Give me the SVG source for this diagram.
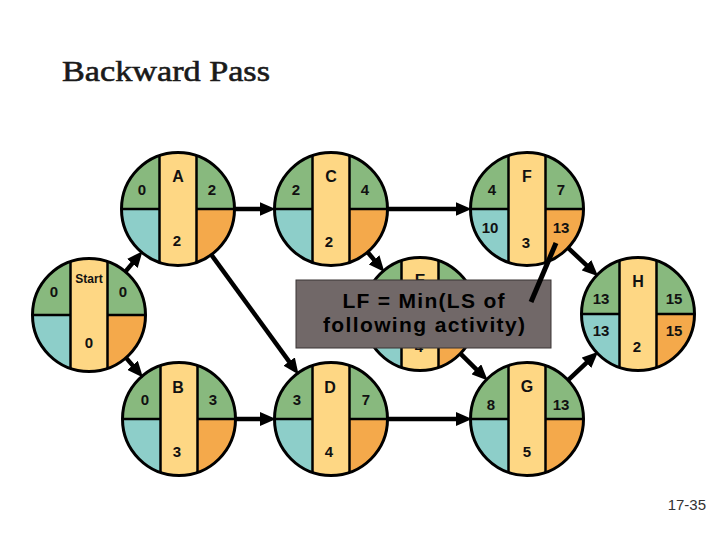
<svg xmlns="http://www.w3.org/2000/svg" xmlns:xlink="http://www.w3.org/1999/xlink" width="720" height="540" viewBox="0 0 720 540">
<style>
.v{font-family:"Liberation Sans",Arial,sans-serif;font-size:15px;font-weight:bold;fill:#111;text-anchor:middle}
.l{font-family:"Liberation Sans",Arial,sans-serif;font-size:16px;font-weight:bold;fill:#111;text-anchor:middle}
.s{font-family:"Liberation Sans",Arial,sans-serif;font-size:12px;font-weight:bold;fill:#111;text-anchor:middle}
.c{stroke:#000;stroke-width:4.5;fill:none;marker-end:url(#ah)}
.bx{font-family:"Liberation Sans",Arial,sans-serif;font-size:21px;font-weight:bold;fill:#000;text-anchor:middle}
</style>
<defs>
<marker id="ah" markerUnits="userSpaceOnUse" markerWidth="16" markerHeight="14" refX="5" refY="7" orient="auto">
<path d="M0,0 L16,7 L0,14 z" fill="#000"/>
</marker>
<clipPath id="cc"><circle r="56.5"/></clipPath>
<g id="node">
<g clip-path="url(#cc)">
<rect x="-57" y="-57" width="114" height="57" fill="#88b97e"/>
<rect x="-57" y="0" width="39" height="57" fill="#8dcec9"/>
<rect x="18" y="0" width="39" height="57" fill="#f4a94b"/>
<rect x="-18.5" y="-57" width="37" height="114" fill="#fed784"/>
<path d="M-18.5,-57V57M18.5,-57V57M-57,0H-18.5M18.5,0H57" stroke="#000" stroke-width="2.5" fill="none"/>
</g>
<circle r="56.5" fill="none" stroke="#000" stroke-width="3"/>
</g>
</defs>
<rect width="720" height="540" fill="#fff"/>
<text x="62" y="81" font-family="Liberation Serif,Times New Roman,serif" font-size="30" fill="#1a1a1a" stroke="#1a1a1a" stroke-width="0.6" textLength="208" lengthAdjust="spacingAndGlyphs">Backward Pass</text>

<g id="node-start">
<use xlink:href="#node" x="89" y="315"/>
<text class="s" x="89" y="283">Start</text>
<text class="v" x="54" y="297">0</text>
<text class="v" x="123" y="297">0</text>
<text class="v" x="89" y="348">0</text>
</g>
<g id="node-A">
<use xlink:href="#node" x="178" y="209"/>
<text class="l" x="178" y="182">A</text>
<text class="v" x="142" y="195">0</text>
<text class="v" x="212" y="195">2</text>
<text class="v" x="177" y="246">2</text>
</g>
<g id="node-C">
<use xlink:href="#node" x="331" y="209"/>
<text class="l" x="331" y="182">C</text>
<text class="v" x="296" y="195">2</text>
<text class="v" x="365" y="195">4</text>
<text class="v" x="329" y="247">2</text>
</g>
<g id="node-F">
<use xlink:href="#node" x="527" y="209"/>
<text class="l" x="527" y="182">F</text>
<text class="v" x="492" y="195">4</text>
<text class="v" x="561" y="195">7</text>
<text class="v" x="490" y="233">10</text>
<text class="v" x="561" y="233">13</text>
<text class="v" x="526" y="248">3</text>
</g>
<g id="node-E">
<use xlink:href="#node" x="420" y="314"/>
<text class="l" x="420" y="286">E</text>
<text class="v" x="419" y="352">4</text>
</g>
<g id="node-B">
<use xlink:href="#node" x="179" y="419"/>
<text class="l" x="178" y="393">B</text>
<text class="v" x="145" y="405">0</text>
<text class="v" x="213" y="405">3</text>
<text class="v" x="177" y="457">3</text>
</g>
<g id="node-D">
<use xlink:href="#node" x="331" y="419"/>
<text class="l" x="330" y="393">D</text>
<text class="v" x="297" y="405">3</text>
<text class="v" x="366" y="405">7</text>
<text class="v" x="329" y="457">4</text>
</g>
<g id="node-G">
<use xlink:href="#node" x="527" y="419"/>
<text class="l" x="527" y="392">G</text>
<text class="v" x="491" y="410">8</text>
<text class="v" x="561" y="410">13</text>
<text class="v" x="527" y="457">5</text>
</g>
<g id="node-H">
<use xlink:href="#node" x="638" y="314"/>
<text class="l" x="638" y="287">H</text>
<text class="v" x="601" y="304">13</text>
<text class="v" x="674" y="304">15</text>
<text class="v" x="601" y="336">13</text>
<text class="v" x="674" y="336">15</text>
<text class="v" x="637" y="352">2</text>
</g>

<g id="connectors">
<line class="c" x1="125" y1="272.1" x2="135.5" y2="259.6"/>
<line class="c" x1="125.7" y1="357.4" x2="135.8" y2="369.1"/>
<line class="c" x1="235" y1="209" x2="264.5" y2="209"/>
<line class="c" x1="388" y1="209" x2="460.5" y2="209"/>
<line class="c" x1="211.6" y1="255.1" x2="292.1" y2="365.6"/>
<line class="c" x1="367.9" y1="252.5" x2="377.3" y2="263.6"/>
<line class="c" x1="236" y1="419" x2="265" y2="419"/>
<line class="c" x1="388" y1="419" x2="461" y2="419"/>
<line class="c" x1="460.7" y1="353.9" x2="479.9" y2="372.8"/>
<line class="c" x1="568.4" y1="248.2" x2="590.1" y2="268.6"/>
<line class="c" x1="568.4" y1="379.8" x2="590.1" y2="359.4"/>
</g>

<g id="callout">
<rect x="296" y="280" width="255" height="68" fill="#716868" stroke="#3a3434" stroke-width="1"/>
<line x1="531" y1="302" x2="556" y2="243" stroke="#000" stroke-width="5"/>
<text class="bx" x="423.5" y="308" textLength="162" lengthAdjust="spacing">LF = Min(LS of</text>
<text class="bx" x="424" y="332" textLength="202" lengthAdjust="spacing">following activity)</text>
</g>

<text x="706" y="510" font-family="Liberation Sans,Arial,sans-serif" font-size="15" fill="#333" text-anchor="end">17-35</text>
</svg>
